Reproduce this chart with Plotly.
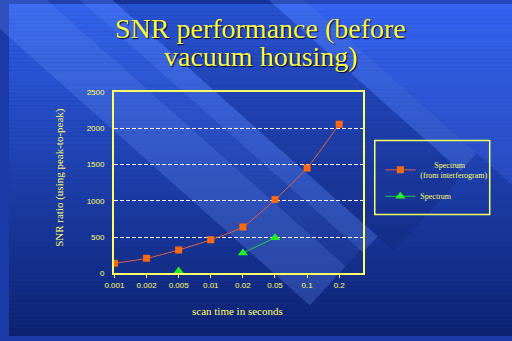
import plotly.graph_objects as go

# ---- data ----
categories = ["0.001", "0.002", "0.005", "0.01", "0.02", "0.05", "0.1", "0.2"]
spectrum_interf = [137, 205, 322, 461, 640, 1018, 1454, 2060]
spectrum = [None, None, 30, None, 280, 490, None, None]
y_ticks = [0, 500, 1000, 1500, 2000, 2500]

W, H = 512, 341
YEL = "#ffff66"

def px(x):
    return x / W

def py(y):
    return 1 - y / H

shapes = []
# vertical background gradient
top = (48, 96, 236)
bot = (13, 34, 112)
step = 4
for i in range(0, H, step):
    f = (i + step / 2) / H
    c = tuple(int(top[k] + (bot[k] - top[k]) * f) for k in range(3))
    shapes.append(dict(type="rect", xref="paper", yref="paper", layer="below",
                       x0=0, x1=1, y0=py(min(i + step, H)), y1=py(i),
                       line=dict(width=0), fillcolor="rgb(%d,%d,%d)" % c))

# diagonal stripes: s = 0.9x - y, t = x + 0.9y
def band(s1, s2, t1, t2, color):
    def pt(s, t):
        x = (0.9 * s + t) / 1.81
        y = (0.9 * t - s) / 1.81
        return "%.4f,%.4f" % (px(x), py(y))
    path = "M %s L %s L %s L %s Z" % (pt(s1, t1), pt(s2, t1), pt(s2, t2), pt(s1, t2))
    return dict(type="path", xref="paper", yref="paper", layer="below", path=path,
                line=dict(width=0), fillcolor=color)

shapes.append(band(99, 242, -400, 620, "rgba(10,20,90,0.18)"))
shapes.append(band(275, 700, -400, 1200, "rgba(70,110,255,0.25)"))
shapes.append(band(242, 275, -400, 614, "rgba(110,150,255,0.22)"))
shapes.append(band(69, 99, -400, 590, "rgba(110,150,255,0.25)"))
shapes.append(band(39, 69, -400, 585, "rgba(110,150,255,0.08)"))
shapes.append(band(-34, 39, -400, 585, "rgba(110,150,255,0.25)"))

# legend box
shapes.append(dict(type="rect", xref="paper", yref="paper", layer="above",
                   x0=px(372.3), x1=px(489.3), y0=py(216.3), y1=py(140.3),
                   line=dict(color=YEL, width=1.5), fillcolor="rgba(0,0,0,0)"))

fig = go.Figure()
fig.add_trace(go.Scatter(
    x=categories, y=spectrum_interf, mode="lines+markers",
    name="&nbsp;&nbsp;&nbsp;&nbsp;&nbsp;&nbsp;&nbsp;Spectrum<br>(from interferogram)", legendgroup="a",
    line=dict(color="#e8603a", width=1, shape="spline", smoothing=0.6),
    marker=dict(symbol="square", size=7, color="#ff6a10", line=dict(width=0))))
fig.add_trace(go.Scatter(
    x=categories, y=spectrum, mode="lines+markers", name="Spectrum",
    legendgroup="b", connectgaps=False,
    line=dict(color="#22cc44", width=1),
    marker=dict(symbol="triangle-up", size=9, color="#22ee22", line=dict(width=0))))

shadow = "1px 1px 1px #000033"
annotations = [
    dict(text="SNR performance (before", x=px(256.5), y=py(25), xref="paper", yref="paper",
         showarrow=False, xanchor="center", yanchor="middle",
         font=dict(family="Liberation Serif", size=28, color="#ffff44", shadow=shadow)),
    dict(text="vacuum housing)", x=px(256), y=py(54), xref="paper", yref="paper",
         showarrow=False, xanchor="center", yanchor="middle",
         font=dict(family="Liberation Serif", size=28, color="#ffff44", shadow=shadow)),
    dict(text="SNR ratio (using peak-to-peak)", x=px(52), y=py(178.5), xref="paper", yref="paper",
         showarrow=False, textangle=-90, xanchor="center", yanchor="middle",
         font=dict(family="Liberation Serif", size=11, color=YEL)),
    dict(text="scan time in seconds", x=px(233), y=py(315), xref="paper", yref="paper",
         showarrow=False, xanchor="center", yanchor="middle",
         font=dict(family="Liberation Serif", size=11, color=YEL)),
]

tickfont = dict(family="Liberation Sans", size=8, color=YEL)

fig.update_layout(
    width=W, height=H, margin=dict(l=0, r=0, t=0, b=0),
    paper_bgcolor="#1a3aa8", plot_bgcolor="rgba(0,0,0,0)",
    shapes=shapes, annotations=annotations,
    showlegend=True,
    legend=dict(x=px(378), y=py(153), xanchor="left", yanchor="top",
                bgcolor="rgba(0,0,0,0)", borderwidth=0, itemwidth=30,
                tracegroupgap=5,
                font=dict(family="Liberation Serif", size=8, color=YEL)),
    xaxis=dict(domain=[px(106.7), px(360.3)], type="category", range=[-0.02, 7.74],
               showline=True, linecolor=YEL, linewidth=1.5, mirror=True,
               ticks="outside", ticklen=3, tickcolor=YEL, tickwidth=1,
               tickfont=tickfont, showgrid=False, zeroline=False, fixedrange=True),
    yaxis=dict(domain=[py(276.5), py(90.7)], range=[0, 2500], tickvals=y_ticks,
               showline=True, linecolor=YEL, linewidth=1.5, mirror=True,
               ticks="", tickfont=tickfont, ticklabelstandoff=6,
               showgrid=True, gridcolor="#ffffdd", gridwidth=1, griddash="4px,2px",
               zeroline=False, fixedrange=True),
)

bg_css = ("linear-gradient(to bottom, rgb(%d,%d,%d) 8px, rgb(%d,%d,%d) 349px)"
          % (top + bot))
post = ("document.documentElement.style.background='%s';"
        "document.documentElement.style.minHeight='100%%';"
        "document.body.style.background='transparent';" % bg_css)
fig.write_html("out.html", post_script=post)
